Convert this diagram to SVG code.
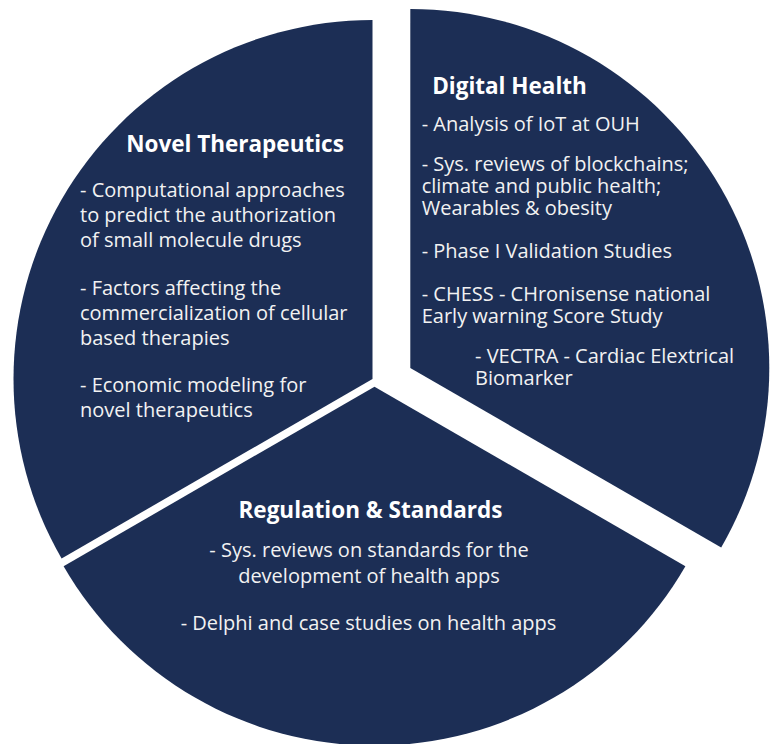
<svg xmlns="http://www.w3.org/2000/svg" width="773" height="744" viewBox="0 0 773 744">
<style>
.sector{fill:#1c2e55;stroke:none}
.title{font-family:"Open Sans","Liberation Sans",sans-serif;font-weight:700;font-size:22.5px;fill:#ffffff;text-anchor:middle}
.body{font-family:"Open Sans","Liberation Sans",sans-serif;font-size:20px;fill:#f2f2f2}
.mid{text-anchor:middle}
</style>
<rect width="773" height="744" fill="#ffffff"/>
<g id="connectors"/>
<g id="node-novel-therapeutics">
<path class="sector" d="M372.5 379 L372.5 20 A359 359 0 0 0 61.6 558.5 Z"/>
<text class="title" x="235" y="152.3">Novel Therapeutics</text>
<text class="body" x="80" y="196.5">- Computational approaches</text>
<text class="body" x="80" y="221.5">to predict the authorization</text>
<text class="body" x="80" y="246.5">of small molecule drugs</text>
<text class="body" x="80" y="295">- Factors affecting the</text>
<text class="body" x="80" y="320">commercialization of cellular</text>
<text class="body" x="80" y="345">based therapies</text>
<text class="body" x="80" y="392">- Economic modeling for</text>
<text class="body" x="80" y="417">novel therapeutics</text>
</g>
<g id="node-digital-health">
<path class="sector" d="M410.3 368 L410.3 9 A359 359 0 0 1 721.2 547.5 Z"/>
<text class="title" x="509.5" y="94.3">Digital Health</text>
<text class="body" x="421.7" y="131">- Analysis of IoT at OUH</text>
<text class="body" x="421.7" y="170.5">- Sys. reviews of blockchains;</text>
<text class="body" x="421.7" y="193">climate and public health;</text>
<text class="body" x="421.7" y="215">Wearables &amp; obesity</text>
<text class="body" x="421.7" y="257.5">- Phase I Validation Studies</text>
<text class="body" x="421.7" y="300.5">- CHESS - CHronisense national</text>
<text class="body" x="421.7" y="323">Early warning Score Study</text>
<text class="body" x="475" y="362.5">- VECTRA - Cardiac Elextrical</text>
<text class="body" x="475" y="384.5">Biomarker</text>
</g>
<g id="node-regulation-standards">
<path class="sector" d="M374.5 386.7 L685.4 566.2 A359 359 0 0 1 63.6 566.2 Z"/>
<text class="title" x="370.5" y="518.3">Regulation &amp; Standards</text>
<text class="body mid" x="369" y="556.7">- Sys. reviews on standards for the</text>
<text class="body mid" x="369" y="583.3">development of health apps</text>
<text class="body mid" x="368.5" y="630">- Delphi and case studies on health apps</text>
</g>
</svg>
